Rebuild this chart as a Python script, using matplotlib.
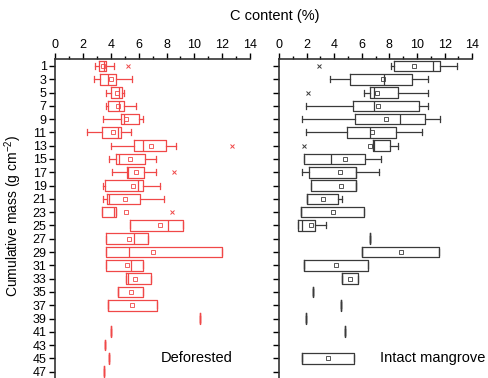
import numpy as np
import matplotlib.pyplot as plt

plt.rcParams['font.family'] = ['Liberation Sans', 'DejaVu Sans']
plt.rcParams['mathtext.fontset'] = 'custom'
plt.rcParams['mathtext.rm'] = 'Liberation Sans'

depth = list(range(1, 48, 2))

# deforested site: q1, median, q3, mean, whisker low, whisker high, outliers
def_q1 = [3.18, 3.25, 3.99, 3.78, 4.72, 3.37, 5.70, 4.38, 5.15, 3.56, 3.71, 3.34,
          5.39, 3.66, 3.68, 3.68, 5.08, 4.55, 3.80, 10.4, 4.04, 3.56, 3.85, 3.51]
def_med = [3.54, 3.78, 4.57, 4.62, 4.93, 4.55, 6.28, 4.60, 5.27, 5.94, 3.85, 4.26,
           8.09, 5.68, 5.32, 5.42, 5.20, 4.55, 3.80, 10.4, 4.04, 3.56, 3.85, 3.51]
def_q3 = [3.68, 4.38, 4.79, 4.98, 6.06, 4.74, 7.99, 6.47, 6.38, 6.33, 6.11, 4.38,
          9.17, 6.67, 11.96, 6.30, 6.91, 6.33, 7.29, 10.4, 4.04, 3.56, 3.85, 3.51]
def_mean = [3.45, 4.04, 4.45, 4.50, 5.10, 4.16, 6.88, 5.39, 5.80, 5.61, 5.05, 5.08,
            7.53, 5.32, 7.00, 5.13, 5.73, 5.42, 5.54, None, None, None, None, None]
def_lo = [2.84, 2.82, 3.68, 3.68, 3.42, 2.31, 3.99, 3.90, 4.12, 3.44, 3.42, 3.34,
          5.39, 3.66, 3.68, 3.68, 5.08, 4.55, 3.80, 10.4, 4.04, 3.56, 3.85, 3.51]
def_hi = [4.20, 5.54, 4.98, 5.78, 6.33, 5.46, 8.71, 7.24, 7.24, 7.53, 7.82, 4.38,
          9.17, 6.67, 11.96, 6.30, 6.91, 6.33, 7.29, 10.4, 4.04, 3.56, 3.85, 3.51]
def_out = {1: [5.25], 13: [12.68], 17: [8.50], 23: [8.38]}

# intact mangrove site (None = no sample at that depth)
int_q1 = [8.35, 5.17, 6.57, 5.33, 5.48, 4.95, 6.81, 1.79, 2.20, 2.34, 2.00, 1.62,
          1.40, 6.61, 6.03, 1.81, 4.59, 2.46, 4.47, 1.93, 4.78, None, 1.64, None]
int_med = [11.18, 7.63, 6.90, 6.88, 8.79, 6.61, 6.90, 3.77, 5.55, 5.55, 2.00, 1.62,
           1.69, 6.61, 6.03, 1.81, 4.59, 2.46, 4.47, 1.93, 4.78, None, 1.64, None]
int_q3 = [11.68, 9.63, 8.62, 10.14, 10.60, 8.47, 8.04, 6.23, 5.60, 5.60, 4.30, 6.15,
          2.63, 6.61, 11.56, 6.42, 5.72, 2.46, 4.47, 1.93, 4.78, None, 5.43, None]
int_mean = [9.80, 7.55, 7.07, 7.14, 7.75, 6.76, 6.59, 4.78, 4.44, 4.49, 3.21, 3.89,
            2.29, None, 8.81, 4.10, 5.17, None, None, None, None, None, 3.53, None]
int_lo = [8.10, 3.69, 6.18, 1.96, 1.64, 1.98, 6.81, 1.79, 1.64, 2.34, 2.00, 1.62,
          1.40, 6.61, 6.03, 1.81, 4.59, 2.46, 4.47, 1.93, 4.78, None, 1.64, None]
int_hi = [12.87, 10.81, 10.77, 10.77, 11.66, 10.38, 8.64, 7.36, 7.22, 5.60, 4.59, 6.15,
          3.40, 6.61, 11.56, 6.42, 5.72, 2.46, 4.47, 1.93, 4.78, None, 5.43, None]
int_out = {1: [2.92], 5: [2.12], 13: [1.83]}


def draw_panel(ax, q1, med, q3, mean, lo, hi, outl, color):
    stats, pos = [], []
    for i, d in enumerate(depth):
        if q1[i] is None:
            continue
        stats.append(dict(q1=q1[i], med=med[i], q3=q3[i], whislo=lo[i],
                          whishi=hi[i], fliers=outl.get(d, [])))
        pos.append(d)
    lw = 0.9
    ax.bxp(stats, positions=pos, widths=1.6, capwidths=0.9,
           orientation='horizontal', manage_ticks=False,
           boxprops=dict(color=color, lw=lw),
           medianprops=dict(color=color, lw=lw),
           whiskerprops=dict(color=color, lw=lw),
           capprops=dict(color=color, lw=lw),
           flierprops=dict(marker='x', markeredgecolor=color, markersize=3.5,
                           markeredgewidth=0.7))
    mx = [m for m in mean if m is not None]
    my = [d for d, m in zip(depth, mean) if m is not None]
    ax.plot(mx, my, 's', ms=3, mfc='none', mec=color, mew=0.6, ls='none')

    ax.set_xlim(0, 14)
    ax.set_ylim(47.95, -0.05)
    ax.xaxis.tick_top()
    ax.set_xticks(range(0, 15, 2))
    ax.set_xticks(range(0, 15), minor=True)
    ax.set_yticks(depth)
    ax.tick_params(axis='both', which='major', direction='out', length=4,
                   width=1, labelsize=9, pad=2)
    ax.tick_params(axis='x', which='minor', direction='out', length=2.5, width=1)
    for s in ['right', 'bottom']:
        ax.spines[s].set_visible(False)
    for s in ['left', 'top']:
        ax.spines[s].set_linewidth(1.2)
        ax.spines[s].set_color('#333333')


fig = plt.figure(figsize=(4.88, 3.78), dpi=100)
ax1 = fig.add_axes([0.1127, 0.0, 0.4, 0.844])
ax2 = fig.add_axes([0.5717, 0.0, 0.396, 0.844])

draw_panel(ax1, def_q1, def_med, def_q3, def_mean, def_lo, def_hi, def_out, '#f04848')
draw_panel(ax2, int_q1, int_med, int_q3, int_mean, int_lo, int_hi, int_out, '#3a3a3a')

ax1.set_yticklabels([str(d) for d in depth])
ax2.set_yticklabels([])

ax1.text(0.91, 0.063, 'Deforested', transform=ax1.transAxes, ha='right',
         va='center', fontsize=10.5)
ax2.text(1.07, 0.063, 'Intact mangrove', transform=ax2.transAxes, ha='right',
         va='center', fontsize=10.5, clip_on=False)

fig.text(0.564, 0.958, 'C content (%)', ha='center', va='center', fontsize=10.5)
fig.text(0.028, 0.43, 'Cumulative mass (g cm$^{-2}$)', rotation=90,
         ha='center', va='center', fontsize=10)

fig.savefig('out.png', dpi=100)
